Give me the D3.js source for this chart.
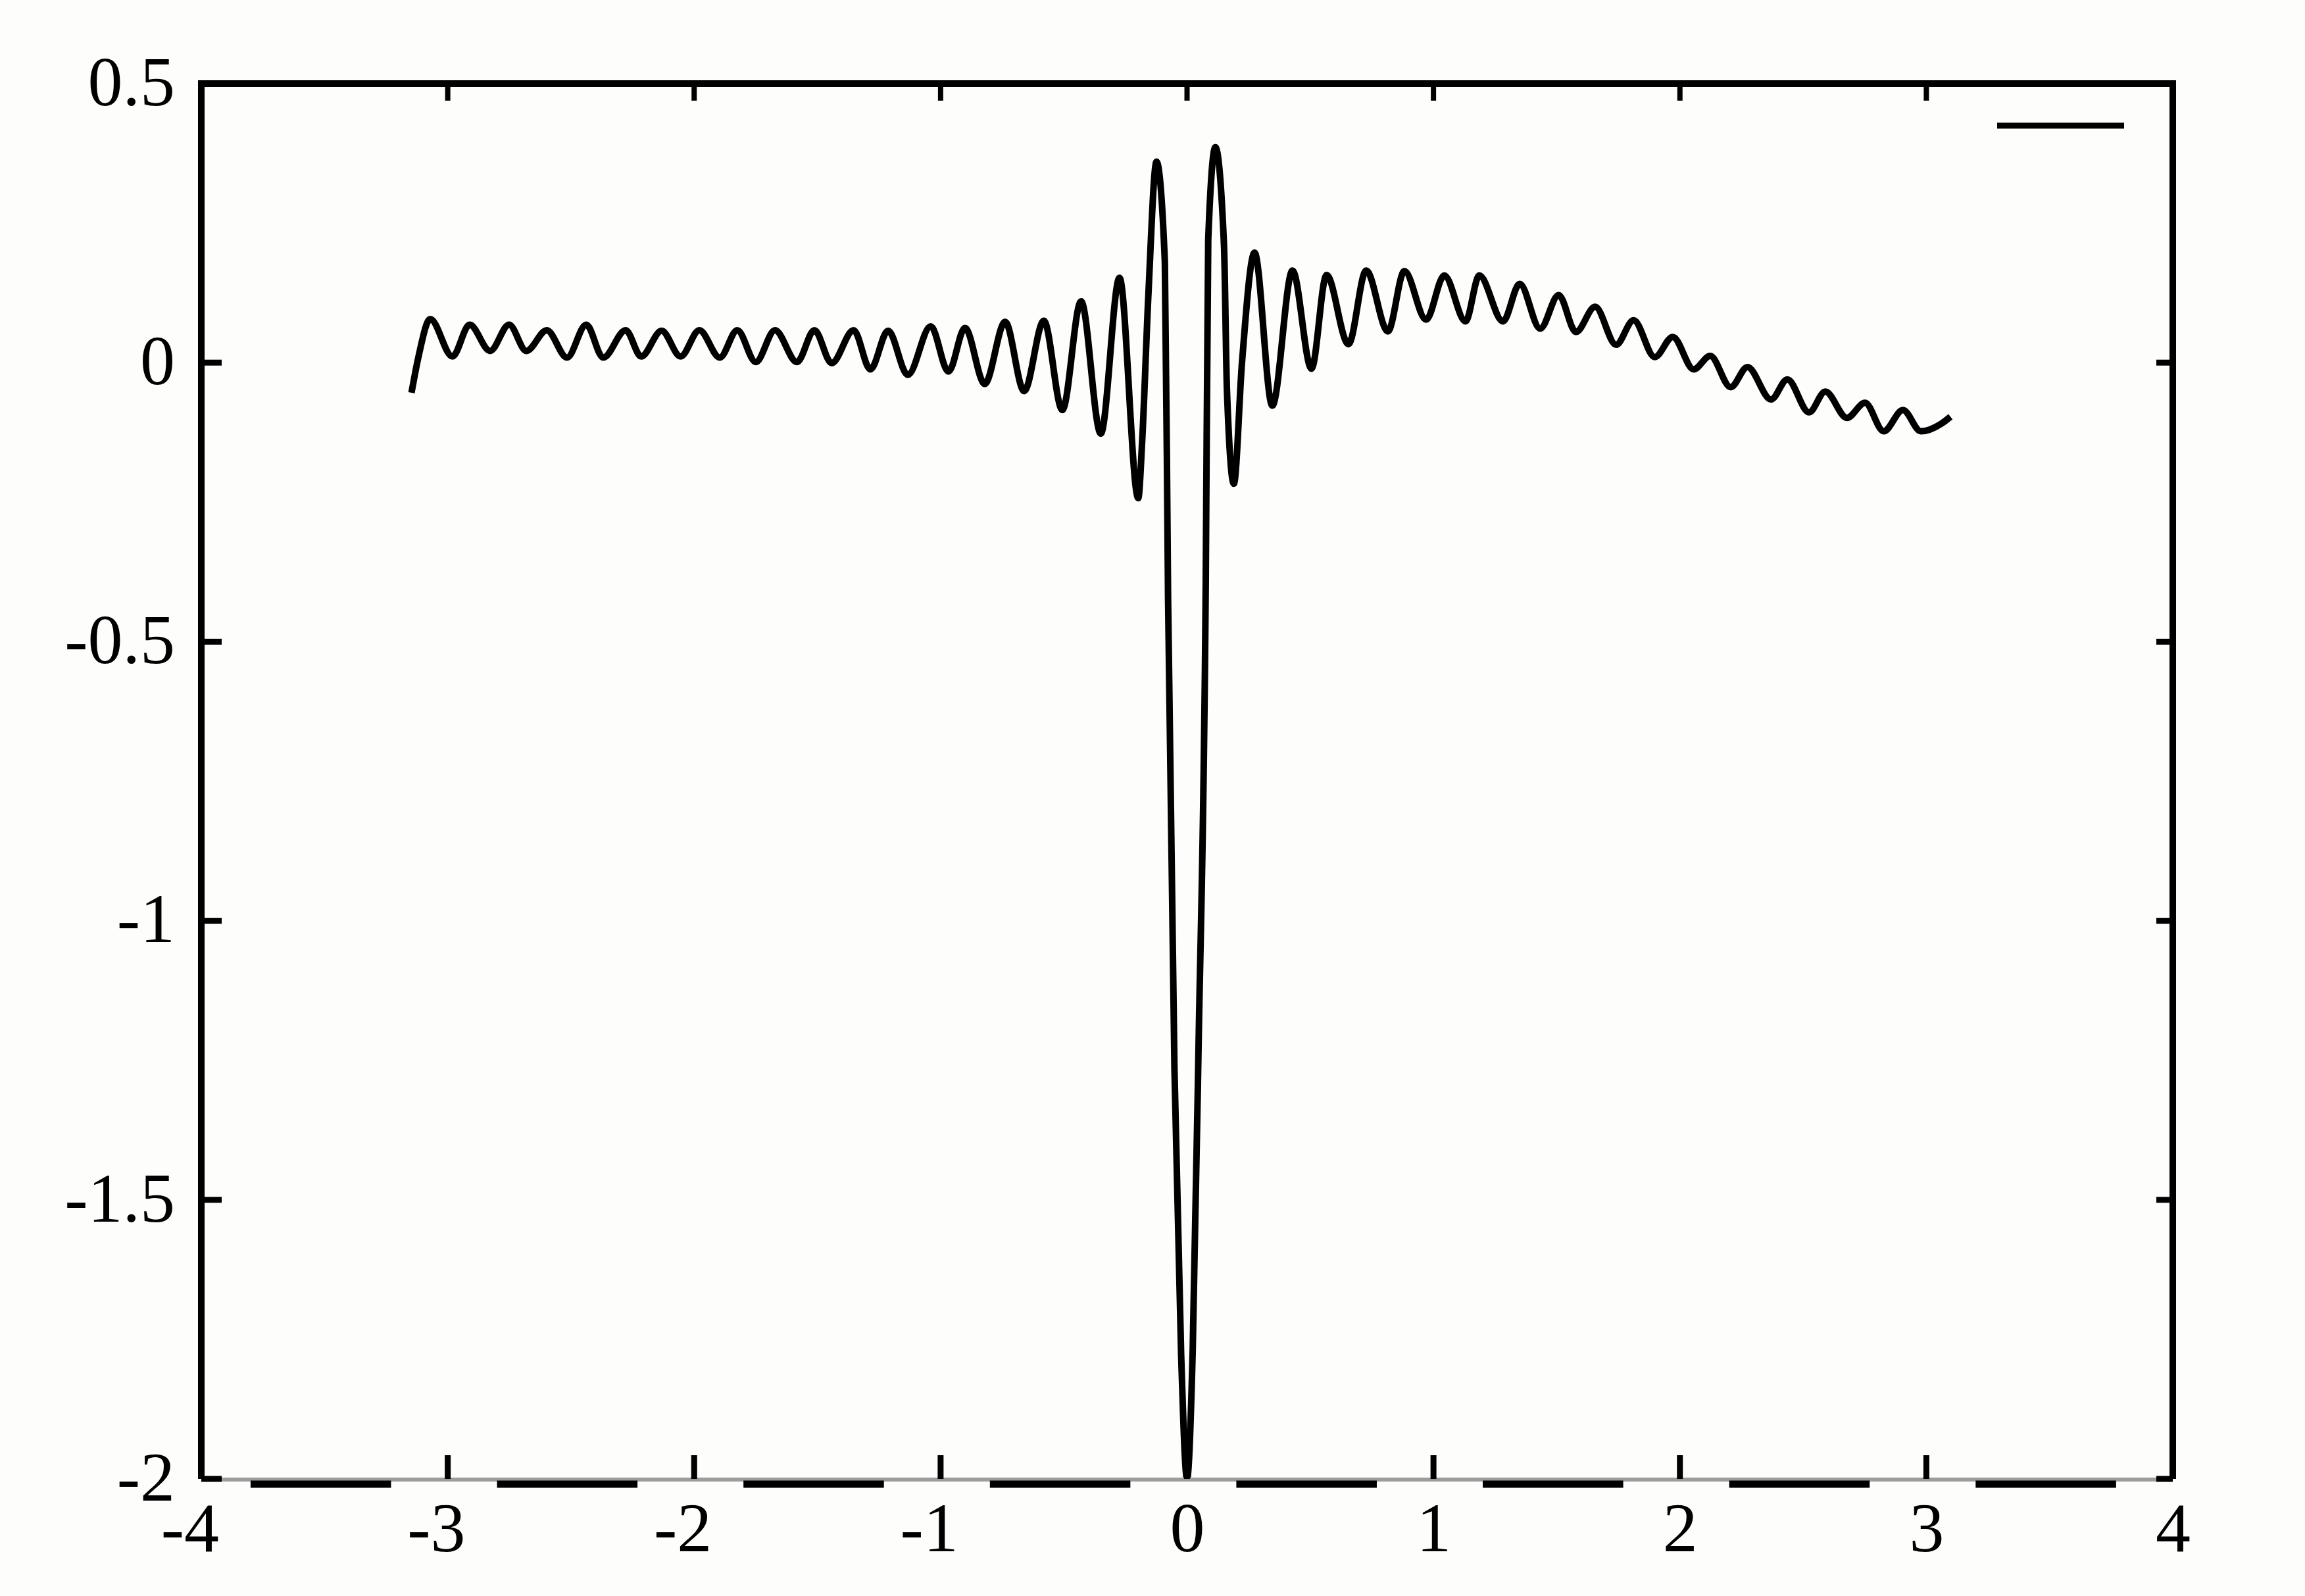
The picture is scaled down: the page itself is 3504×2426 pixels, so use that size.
<!DOCTYPE html>
<html>
<head>
<meta charset="utf-8">
<script src="https://cdn.jsdelivr.net/npm/d3@7"></script>
<style>
  html, body { margin: 0; padding: 0; background: #fdfdfb; }
  svg { display: block; }
  text { font-family: "Liberation Serif", "Times New Roman", serif; fill: #000; }
</style>
</head>
<body>
<div id="plot"></div>
<script>
const ink = "#000";

// tick values and their labels
const xTicks = [-4, -3, -2, -1, 0, 1, 2, 3, 4];
const xTickLabels = ["-4", "-3", "-2", "-1", "0", "1", "2", "3", "4"];
const yTicks = [0.5, 0, -0.5, -1, -1.5, -2];
const yTickLabels = ["0.5", "0", "-0.5", "-1", "-1.5", "-2"];

// curve: peaks and troughs, [x, y]
const leftTail = [
  [-3.147, -0.054], [-3.118, 0.012], [-3.071, 0.078], [-2.981, 0.011],
  [-2.911, 0.068], [-2.828, 0.021], [-2.751, 0.068], [-2.681, 0.021],
  [-2.598, 0.058], [-2.516, 0.009], [-2.438, 0.068], [-2.369, 0.009],
  [-2.278, 0.058], [-2.215, 0.011], [-2.132, 0.057], [-2.055, 0.011],
  [-1.979, 0.058], [-1.896, 0.009], [-1.825, 0.058], [-1.750, 0.001],
  [-1.672, 0.058], [-1.583, 0.001], [-1.512, 0.058], [-1.442, -0.001],
  [-1.353, 0.058], [-1.285, -0.012], [-1.213, 0.057], [-1.133, -0.022],
  [-1.040, 0.065], [-0.968, -0.016], [-0.901, 0.062], [-0.821, -0.038],
  [-0.738, 0.073], [-0.661, -0.051], [-0.581, 0.075], [-0.506, -0.085],
  [-0.430, 0.110], [-0.350, -0.127], [-0.274, 0.152]
];

const centralSpike = [
  [-0.198, -0.243], [-0.182, -0.14], [-0.157, 0.12], [-0.124, 0.360],
  [-0.090, 0.18], [-0.077, -0.42], [-0.051, -1.266], [-0.024, -1.776],
  [0.000, -2.0], [0.023, -1.770], [0.047, -1.219], [0.076, -0.393],
  [0.086, 0.22], [0.115, 0.386], [0.150, 0.21], [0.162, -0.05],
  [0.190, -0.217], [0.223, 0.0], [0.274, 0.197]
];

const rightTail = [
  [0.346, -0.077], [0.428, 0.165], [0.505, -0.011], [0.566, 0.157],
  [0.655, 0.033], [0.727, 0.165], [0.815, 0.056], [0.882, 0.164],
  [0.970, 0.077], [1.044, 0.156], [1.130, 0.074], [1.186, 0.156],
  [1.282, 0.074], [1.350, 0.141], [1.433, 0.061], [1.508, 0.121],
  [1.578, 0.055], [1.656, 0.100], [1.741, 0.032], [1.812, 0.076],
  [1.898, 0.010], [1.971, 0.046], [2.056, -0.012], [2.123, 0.012],
  [2.206, -0.044], [2.274, -0.008], [2.370, -0.066], [2.436, -0.030],
  [2.524, -0.089], [2.590, -0.052], [2.678, -0.099], [2.751, -0.072],
  [2.827, -0.123], [2.905, -0.085], [2.978, -0.123], [3.062, -0.109],
  [3.098, -0.097]
];

const curve = leftTail.concat(centralSpike, rightTail);

// set the dimensions and margins of the graph
const margin = {top: 127, right: 201, bottom: 178, left: 306},
      width = 3504 - margin.left - margin.right,
      height = 2426 - margin.top - margin.bottom;

const svg = d3.select("#plot")
  .append("svg")
    .attr("width", 3504)
    .attr("height", 2426);

svg.append("rect")
  .attr("width", 3504)
  .attr("height", 2426)
  .attr("fill", "#fdfdfb");

const g = svg.append("g")
  .attr("transform", "translate(" + margin.left + "," + margin.top + ")");

const xScale = d3.scaleLinear()
        .domain([-4, 4])
        .range([0, width]),
      yScale = d3.scaleLinear()
        .domain([-2, 0.5])
        .range([height, 0]);

g.append("clipPath")
  .attr("id", "clip")
  .append("rect")
  .attr("x", 0)
  .attr("y", 0)
  .attr("width", width)
  .attr("height", height);

// the curve
const line = d3.line()
  .x(d => xScale(d[0]))
  .y(d => yScale(d[1]))
  .curve(d3.curveMonotoneX);

g.append("path")
  .datum(curve)
  .attr("clip-path", "url(#clip)")
  .attr("d", line)
  .attr("fill", "none")
  .attr("stroke", ink)
  .attr("stroke-width", 10)
  .attr("stroke-linejoin", "round");

// frame: left, top, right in black
g.append("path")
  .attr("d", "M0," + height + "V0H" + width + "V" + height)
  .attr("fill", "none")
  .attr("stroke", ink)
  .attr("stroke-width", 10)
  .attr("stroke-linejoin", "miter");

// bottom edge: thin grey line with thick black pieces between the ticks
g.append("line")
  .attr("x1", 0)
  .attr("x2", width)
  .attr("y1", height + 1)
  .attr("y2", height + 1)
  .attr("stroke", "#9c9c9c")
  .attr("stroke-width", 6);

g.selectAll(".dash")
  .data(xTicks.slice(0, -1))
  .join("line")
    .attr("class", "dash")
    .attr("x1", d => xScale(d + 0.2))
    .attr("x2", d => xScale(d + 0.77))
    .attr("y1", height + 8)
    .attr("y2", height + 8)
    .attr("stroke", ink)
    .attr("stroke-width", 11);

// inner ticks
g.selectAll(".tick-bottom")
  .data(xTicks)
  .join("line")
    .attr("class", "tick-bottom")
    .attr("x1", d => xScale(d))
    .attr("x2", d => xScale(d))
    .attr("y1", height)
    .attr("y2", height - 36)
    .attr("stroke", ink)
    .attr("stroke-width", 9);

g.selectAll(".tick-top")
  .data(xTicks)
  .join("line")
    .attr("class", "tick-top")
    .attr("x1", d => xScale(d))
    .attr("x2", d => xScale(d))
    .attr("y1", 0)
    .attr("y2", 26)
    .attr("stroke", ink)
    .attr("stroke-width", 8);

g.selectAll(".tick-left")
  .data(yTicks)
  .join("line")
    .attr("class", "tick-left")
    .attr("x1", 0)
    .attr("x2", 31)
    .attr("y1", d => yScale(d))
    .attr("y2", d => yScale(d))
    .attr("stroke", ink)
    .attr("stroke-width", 9);

g.selectAll(".tick-right")
  .data(yTicks)
  .join("line")
    .attr("class", "tick-right")
    .attr("x1", width)
    .attr("x2", width - 25)
    .attr("y1", d => yScale(d))
    .attr("y2", d => yScale(d))
    .attr("stroke", ink)
    .attr("stroke-width", 9);

// tick labels: the digits sit on the tick, a minus hangs to the left
g.selectAll(".xlabel")
  .data(xTicks)
  .join("text")
    .attr("class", "xlabel")
    .attr("x", d => xScale(d) + 27)
    .attr("y", height + 110)
    .attr("text-anchor", "end")
    .attr("font-size", 106)
    .text((d, i) => xTickLabels[i]);

g.selectAll(".ylabel")
  .data(yTicks)
  .join("text")
    .attr("class", "ylabel")
    .attr("x", -40)
    .attr("y", d => yScale(d))
    .attr("dy", "0.31em")
    .attr("text-anchor", "end")
    .attr("font-size", 106)
    .text((d, i) => yTickLabels[i]);

// legend sample line, no caption
g.append("line")
  .attr("x1", width - 267)
  .attr("x2", width - 74)
  .attr("y1", 64)
  .attr("y2", 64)
  .attr("stroke", ink)
  .attr("stroke-width", 9);
</script>
</body>
</html>
